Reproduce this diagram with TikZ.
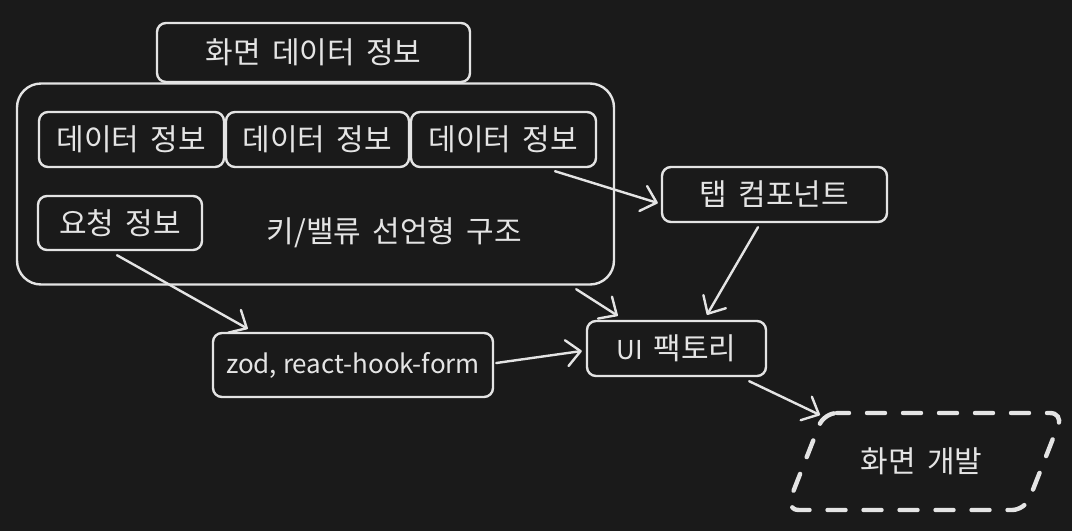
\documentclass[tikz,border=0pt]{standalone}
\usepackage{fontspec}
\setmainfont[WordSpace=1.7]{Noto Sans CJK KR}
\newfontfamily\latfont{Noto Sans CJK KR}
\usetikzlibrary{arrows.meta}
\definecolor{bgc}{HTML}{1A1A1A}
\definecolor{ink}{HTML}{E4E4E4}
\begin{document}
\begin{tikzpicture}[x=1pt,y=-1pt,
  box/.style={draw=ink, line width=2.4pt, rounded corners=9pt, inner sep=0pt, text=ink,
    font=\fontsize{30}{36}\selectfont},
  lbl/.style={text=ink, inner sep=0pt, font=\fontsize{30}{36}\selectfont},
  conn/.style={draw=ink, line width=2.4pt, line cap=round,
    -{Straight Barb[length=14pt,width=26pt,line cap=round,line join=round]}},
]
\fill[bgc] (0,0) rectangle (1072,531);
\useasboundingbox (0,0) rectangle (1072,531);

\node[box, minimum width=597pt, minimum height=201pt, rounded corners=24pt] (cont) at (315.5,184) {};
\node[box, minimum width=313pt, minimum height=59pt] (title) at (313.5,52.5) {화면 데이터 정보};
\node[box, minimum width=185pt, minimum height=55pt] (d1) at (131.5,139.5) {데이터 정보};
\node[box, minimum width=183pt, minimum height=55pt] (d2) at (317.5,139.5) {데이터 정보};
\node[box, minimum width=185pt, minimum height=55pt] (d3) at (503.5,139.5) {데이터 정보};
\node[box, minimum width=164pt, minimum height=54pt] (req) at (120,223) {요청 정보};
\node[lbl] (kv) at (394.5,233) {키/밸류 선언형 구조};
\node[box, minimum width=225pt, minimum height=55pt] (tab) at (774.5,194.5) {탭 컴포넌트};
\node[box, minimum width=280pt, minimum height=64pt, font=\latfont\fontsize{26}{30}\selectfont] (zod) at (353,365) {zod, react-hook-form};
\node[box, minimum width=179pt, minimum height=55pt] (ui) at (676.5,348.5) {{\latfont\fontsize{26}{30}\selectfont UI}\hspace{11pt}팩토리};
\node[lbl] (dev) at (921.5,461) {화면 개발};
\coordinate (devA) at (824,413);
\coordinate (devB) at (1063,413);
\coordinate (devC) at (1025,510);
\coordinate (devD) at (786,510);
\draw[ink, line width=4.4pt, line cap=round, dash pattern=on 18pt off 18pt, dash phase=6pt, rounded corners=13pt]
  (devA) -- (devB) -- (devC) -- (devD) -- cycle;

\draw[conn] ([shift={(51.5,3)}]d3.south) -- ([shift={(-3,8.5)}]tab.west);
\draw[conn] ([shift={(-16.5,4)}]tab.south) -- ([shift={(30.5,-5)}]ui.north);
\draw[conn] ([shift={(-39,3.5)}]cont.south east) -- ([shift={(32,-4)}]ui.north west);
\draw[conn] ([shift={(-3,4)}]req.south) -- ([shift={(36,-3)}]zod.north west);
\draw[conn] ([shift={(2,-2)}]zod.east) -- ([shift={(-4,2.5)}]ui.west);
\draw[conn] ([shift={(-18,4)}]ui.south east) -- ([shift={(-4,2)}]devA);
\end{tikzpicture}
\end{document}
